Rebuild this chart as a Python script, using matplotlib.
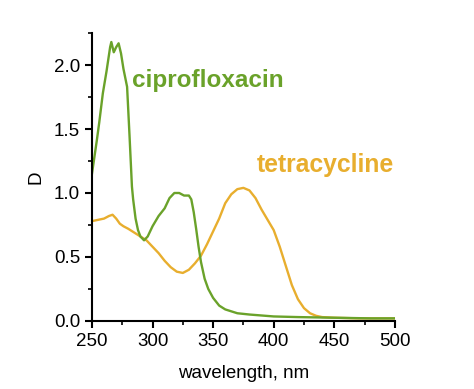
import matplotlib
matplotlib.use("Agg")
import matplotlib.pyplot as plt
from matplotlib.ticker import MultipleLocator

plt.rcParams['font.family'] = ['Liberation Sans', 'DejaVu Sans']

cipro_wl = [250, 252, 254, 256, 259, 262, 265, 266, 268, 270, 272, 274, 276, 279, 281,
            283, 284, 286, 288, 290, 293, 296, 300, 305, 310, 314, 318, 322, 326, 330,
            332, 334, 336, 338, 340, 343, 346, 350, 355, 360, 370, 380, 400, 420, 450, 480, 500]
cipro_d = [1.15, 1.28, 1.41, 1.55, 1.78, 1.95, 2.14, 2.18, 2.10, 2.14, 2.17, 2.09, 1.97, 1.83, 1.45,
           1.05, 0.95, 0.80, 0.71, 0.66, 0.63, 0.66, 0.74, 0.82, 0.88, 0.96, 1.00, 1.00, 0.98, 0.98,
           0.95, 0.85, 0.72, 0.58, 0.46, 0.33, 0.25, 0.18, 0.12, 0.09, 0.06, 0.05, 0.035, 0.03, 0.025, 0.02, 0.02]

tetra_wl = [250, 255, 260, 264, 267, 270, 273, 276, 280, 285, 290, 295, 300, 305, 310, 315,
            320, 325, 330, 335, 340, 345, 350, 355, 360, 365, 370, 375, 380, 385, 390, 395,
            400, 405, 410, 415, 420, 425, 430, 435, 440, 450, 470, 500]
tetra_d = [0.78, 0.79, 0.80, 0.82, 0.83, 0.80, 0.76, 0.74, 0.72, 0.69, 0.66, 0.63, 0.58, 0.53, 0.47, 0.42,
           0.385, 0.375, 0.40, 0.45, 0.51, 0.60, 0.70, 0.80, 0.92, 0.99, 1.03, 1.04, 1.02, 0.96, 0.87, 0.79,
           0.71, 0.58, 0.43, 0.28, 0.17, 0.10, 0.06, 0.04, 0.03, 0.025, 0.02, 0.02]

green = '#6aa22a'
orange = '#e8ae2e'

fig = plt.figure(figsize=(4.74, 3.89), dpi=100)
ax = fig.add_axes([0.194, 0.175, 0.639, 0.74])
ax.plot(tetra_wl, tetra_d, color=orange, lw=1.7)
ax.plot(cipro_wl, cipro_d, color=green, lw=1.7)

ax.set_xlim(250, 500)
ax.set_ylim(0, 2.25)
ax.xaxis.set_major_locator(MultipleLocator(50))
ax.xaxis.set_minor_locator(MultipleLocator(25))
ax.yaxis.set_major_locator(MultipleLocator(0.5))
ax.yaxis.set_minor_locator(MultipleLocator(0.25))
ax.yaxis.set_major_formatter(matplotlib.ticker.FormatStrFormatter('%.1f'))
for s in ['top', 'right']:
    ax.spines[s].set_visible(False)
for s in ['left', 'bottom']:
    ax.spines[s].set_linewidth(1.5)
ax.tick_params(which='major', direction='out', length=5, width=1.5, labelsize=13.5, colors='black')
ax.tick_params(which='minor', direction='out', length=3, width=1.2)

ax.set_xlabel('wavelength, nm', fontsize=13.5, labelpad=11)
ax.set_ylabel('D', fontsize=13.5, labelpad=7)

ax.text(283, 1.88, 'ciprofloxacin', color=green, fontsize=17.5, fontweight='bold', va='center', ha='left')
ax.text(386, 1.22, 'tetracycline', color=orange, fontsize=17.8, fontweight='bold', va='center', ha='left')

fig.savefig('out.png', dpi=100)
